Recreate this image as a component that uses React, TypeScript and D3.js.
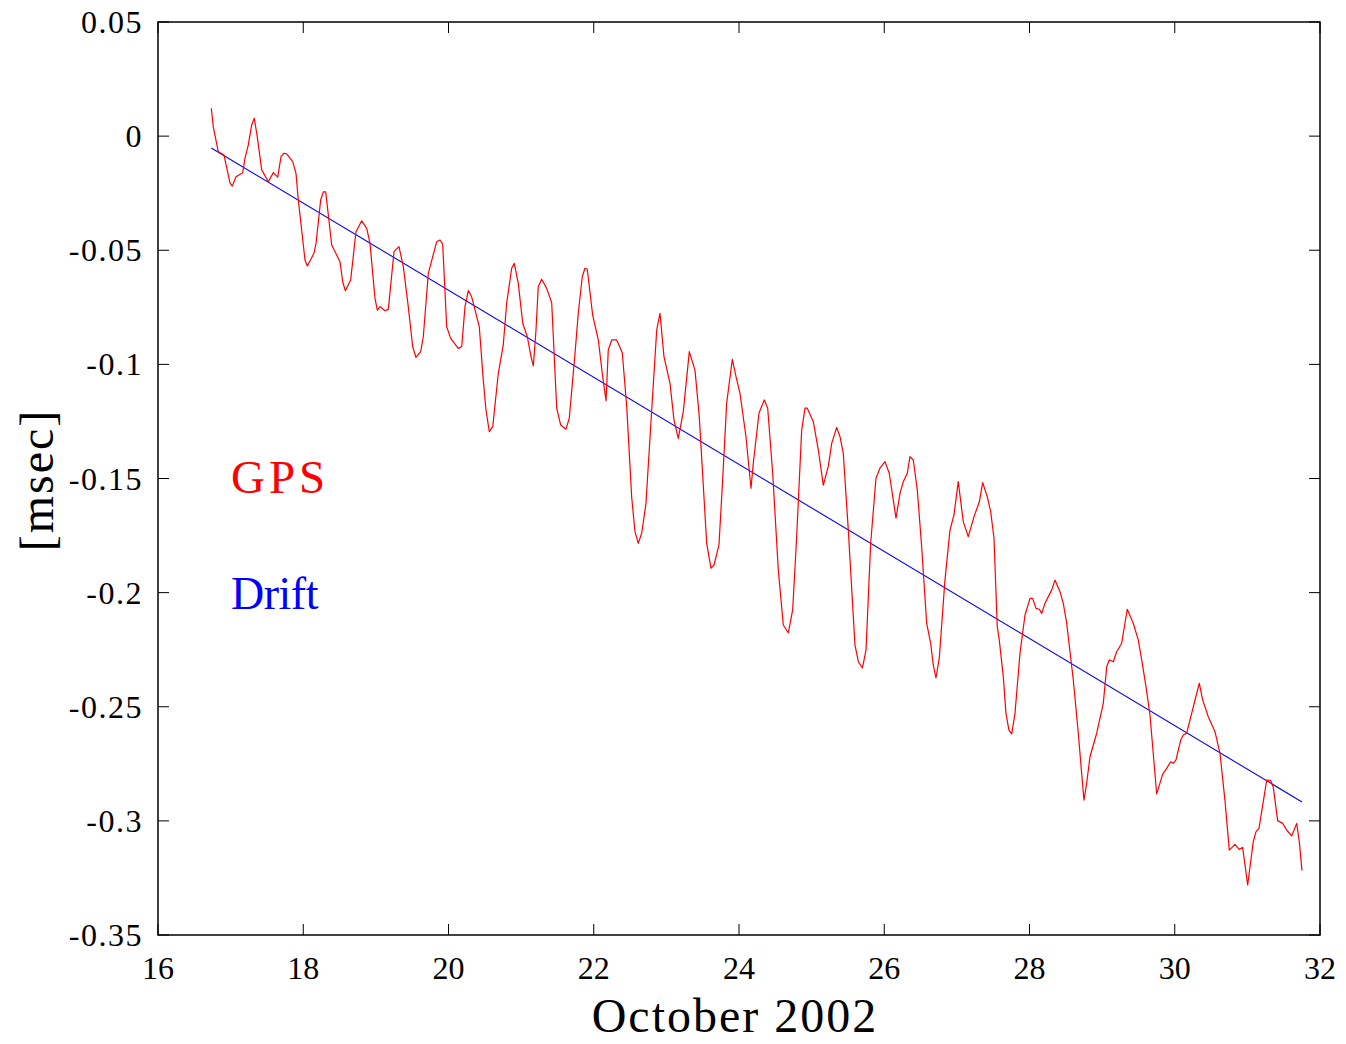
import React from "react";
import * as d3 from "d3";

// GPS clock offset samples (day of October 2002, msec)
const gpsDays = [
  16.734, 16.761, 16.830, 16.909, 16.991, 17.023, 17.074, 17.166, 17.198, 17.243,
  17.290, 17.326, 17.367, 17.428, 17.519, 17.588, 17.648, 17.694, 17.735, 17.772,
  17.855, 17.900, 17.932, 18.024, 18.056, 18.148, 18.176, 18.240, 18.276, 18.309,
  18.392, 18.506, 18.543, 18.579, 18.653, 18.726, 18.805, 18.874, 18.919, 18.988,
  19.020, 19.057, 19.126, 19.171, 19.250, 19.318, 19.378, 19.446, 19.507, 19.552,
  19.617, 19.653, 19.722, 19.837, 19.883, 19.920, 19.975, 20.030, 20.135, 20.182,
  20.227, 20.273, 20.319, 20.424, 20.479, 20.516, 20.562, 20.609, 20.686, 20.754,
  20.801, 20.870, 20.906, 20.961, 21.022, 21.085, 21.136, 21.168, 21.205, 21.236,
  21.283, 21.352, 21.421, 21.490, 21.545, 21.618, 21.663, 21.742, 21.787, 21.842,
  21.879, 21.911, 21.985, 22.063, 22.123, 22.169, 22.200, 22.247, 22.316, 22.393,
  22.454, 22.522, 22.568, 22.613, 22.660, 22.719, 22.798, 22.867, 22.912, 22.967,
  23.050, 23.105, 23.164, 23.233, 23.316, 23.394, 23.453, 23.555, 23.614, 23.656,
  23.724, 23.775, 23.830, 23.908, 23.959, 24.014, 24.096, 24.165, 24.197, 24.275,
  24.348, 24.395, 24.464, 24.541, 24.610, 24.679, 24.739, 24.794, 24.863, 24.909,
  24.940, 25.023, 25.092, 25.161, 25.229, 25.276, 25.345, 25.391, 25.436, 25.505,
  25.597, 25.645, 25.700, 25.749, 25.813, 25.886, 25.941, 26.010, 26.069, 26.162,
  26.217, 26.262, 26.317, 26.354, 26.400, 26.455, 26.515, 26.584, 26.639, 26.675,
  26.712, 26.758, 26.836, 26.905, 26.960, 27.019, 27.088, 27.157, 27.236, 27.309,
  27.355, 27.419, 27.466, 27.511, 27.556, 27.584, 27.639, 27.676, 27.717, 27.755,
  27.800, 27.869, 27.938, 28.007, 28.044, 28.089, 28.135, 28.168, 28.213, 28.305,
  28.351, 28.420, 28.465, 28.512, 28.603, 28.672, 28.718, 28.750, 28.787, 28.833,
  28.925, 29.016, 29.063, 29.098, 29.154, 29.200, 29.269, 29.291, 29.346, 29.429,
  29.498, 29.545, 29.604, 29.659, 29.751, 29.834, 29.889, 29.944, 29.980, 30.017,
  30.082, 30.117, 30.164, 30.338, 30.384, 30.462, 30.554, 30.623, 30.691, 30.751,
  30.829, 30.888, 30.935, 31.004, 31.081, 31.118, 31.160, 31.219, 31.266, 31.321,
  31.357, 31.417, 31.486, 31.541, 31.610, 31.679, 31.715, 31.752,
];

const gpsOffset = [
  0.0122, 0.0041, -0.0068, -0.0083, -0.0205, -0.0219, -0.0178, -0.0160, -0.0096, -0.0039,
  0.0049, 0.0078, -0.0003, -0.0148, -0.0200, -0.0160, -0.0180, -0.0090, -0.0075, -0.0078,
  -0.0112, -0.0163, -0.0280, -0.0543, -0.0569, -0.0513, -0.0470, -0.0280, -0.0244, -0.0244,
  -0.0477, -0.0550, -0.0638, -0.0677, -0.0630, -0.0419, -0.0371, -0.0404, -0.0470, -0.0711,
  -0.0762, -0.0747, -0.0765, -0.0759, -0.0506, -0.0484, -0.0572, -0.0747, -0.0923, -0.0969,
  -0.0944, -0.0879, -0.0601, -0.0463, -0.0455, -0.0473, -0.0835, -0.0886, -0.0930, -0.0923,
  -0.0747, -0.0677, -0.0704, -0.0835, -0.1069, -0.1200, -0.1295, -0.1273, -0.1039, -0.0915,
  -0.0732, -0.0579, -0.0557, -0.0645, -0.0820, -0.0879, -0.0966, -0.1007, -0.0849, -0.0660,
  -0.0627, -0.0667, -0.0730, -0.1192, -0.1266, -0.1284, -0.1236, -0.0952, -0.0776, -0.0616,
  -0.0579, -0.0583, -0.0784, -0.0893, -0.1054, -0.1159, -0.0937, -0.0893, -0.0893, -0.0949,
  -0.1185, -0.1580, -0.1733, -0.1784, -0.1740, -0.1609, -0.1200, -0.0849, -0.0776, -0.0966,
  -0.1083, -0.1244, -0.1324, -0.1207, -0.0944, -0.1025, -0.1229, -0.1784, -0.1893, -0.1879,
  -0.1791, -0.1507, -0.1171, -0.0978, -0.1054, -0.1127, -0.1317, -0.1543, -0.1433, -0.1214,
  -0.1156, -0.1192, -0.1477, -0.1901, -0.2142, -0.2176, -0.2076, -0.1755, -0.1288, -0.1192,
  -0.1192, -0.1251, -0.1375, -0.1529, -0.1448, -0.1346, -0.1276, -0.1317, -0.1390, -0.1726,
  -0.2230, -0.2304, -0.2330, -0.2251, -0.1784, -0.1499, -0.1455, -0.1426, -0.1477, -0.1674,
  -0.1565, -0.1514, -0.1477, -0.1404, -0.1419, -0.1550, -0.1799, -0.2134, -0.2222, -0.2317,
  -0.2374, -0.2286, -0.1945, -0.1726, -0.1660, -0.1514, -0.1689, -0.1755, -0.1667, -0.1602,
  -0.1518, -0.1580, -0.1646, -0.1762, -0.2149, -0.2208, -0.2368, -0.2529, -0.2602, -0.2619,
  -0.2529, -0.2266, -0.2098, -0.2025, -0.2025, -0.2069, -0.2073, -0.2091, -0.2047, -0.1989,
  -0.1945, -0.1996, -0.2047, -0.2134, -0.2383, -0.2616, -0.2792, -0.2909, -0.2835, -0.2719,
  -0.2616, -0.2485, -0.2325, -0.2295, -0.2303, -0.2259, -0.2222, -0.2178, -0.2073, -0.2134,
  -0.2208, -0.2295, -0.2412, -0.2536, -0.2882, -0.2795, -0.2770, -0.2741, -0.2748, -0.2733,
  -0.2646, -0.2624, -0.2616, -0.2397, -0.2470, -0.2544, -0.2609, -0.2704, -0.2909, -0.3128,
  -0.3103, -0.3125, -0.3116, -0.3281, -0.3091, -0.3048, -0.3033, -0.2916, -0.2821, -0.2824,
  -0.2853, -0.2999, -0.3011, -0.3040, -0.3066, -0.3011, -0.3091, -0.3218,
];

// Fitted linear clock drift, from first to last sample
const driftDays = [16.734, 31.752];
const driftOffset = [-0.0052, -0.2917];

const xTicks = [16, 18, 20, 22, 24, 26, 28, 30, 32];
const yTicks = [0.05, 0, -0.05, -0.1, -0.15, -0.2, -0.25, -0.3, -0.35];
const yTickLabels = ["0.05", "0", "-0.05", "-0.1", "-0.15", "-0.2", "-0.25", "-0.3", "-0.35"];

const W = 1346;
const H = 1044;
const left = 158;
const right = 1320;
const top = 22;
const bottom = 935;
const tickLen = 11;
const serif = "'Liberation Serif', 'Times New Roman', serif";

export default function App() {
  const x = d3.scaleLinear().domain([16, 32]).range([left, right]);
  const y = d3.scaleLinear().domain([-0.35, 0.05]).range([bottom, top]);

  const line = d3
    .line<[number, number]>()
    .x((d) => x(d[0]))
    .y((d) => y(d[1]));

  const gps = gpsDays.map((d, i) => [d, gpsOffset[i]] as [number, number]);
  const drift = driftDays.map((d, i) => [d, driftOffset[i]] as [number, number]);

  return (
    <svg
      width={W}
      height={H}
      style={{ position: "absolute", left: 0, top: 0, background: "#fff" }}
      fontFamily={serif}
    >
      <rect x={0} y={0} width={W} height={H} fill="#fff" />

      <path d={line(drift) ?? ""} fill="none" stroke="#0000ff" strokeWidth={1.1} />
      <path d={line(gps) ?? ""} fill="none" stroke="#ff0000" strokeWidth={1.2} strokeLinejoin="round" />

      {/* frame */}
      <rect
        x={left}
        y={top}
        width={right - left}
        height={bottom - top}
        fill="none"
        stroke="#000"
        strokeWidth={1.5}
      />

      {/* x ticks, bottom and top, pointing inward */}
      {xTicks.map((t) => (
        <g key={"x" + t}>
          <line x1={x(t)} x2={x(t)} y1={bottom} y2={bottom - tickLen} stroke="#000" strokeWidth={1} />
          <line x1={x(t)} x2={x(t)} y1={top} y2={top + tickLen} stroke="#000" strokeWidth={1} />
          <text x={x(t)} y={979} fontSize={32} textAnchor="middle" fill="#000">
            {t}
          </text>
        </g>
      ))}

      {/* y ticks, left and right */}
      {yTicks.map((t, i) => (
        <g key={"y" + i}>
          <line x1={left} x2={left + tickLen} y1={y(t)} y2={y(t)} stroke="#000" strokeWidth={1} />
          <line x1={right} x2={right - tickLen} y1={y(t)} y2={y(t)} stroke="#000" strokeWidth={1} />
          <text
            x={143}
            y={y(t) + 11}
            fontSize={32}
            textAnchor="end"
            letterSpacing={1.5}
            fill="#000"
          >
            {yTickLabels[i]}
          </text>
        </g>
      ))}

      <text x={735} y={1032} fontSize={48} textAnchor="middle" letterSpacing={2} fill="#000">
        October 2002
      </text>

      <text
        transform={`translate(53, 480) rotate(-90)`}
        fontSize={48}
        textAnchor="middle"
        letterSpacing={2}
        fill="#000"
      >
        [msec]
      </text>

      <text x={231} y={493} fontSize={47} letterSpacing={4} fill="#ff0000">
        GPS
      </text>
      <text x={231} y={609} fontSize={46} letterSpacing={-0.5} fill="#0000ff">
        Drift
      </text>
    </svg>
  );
}
